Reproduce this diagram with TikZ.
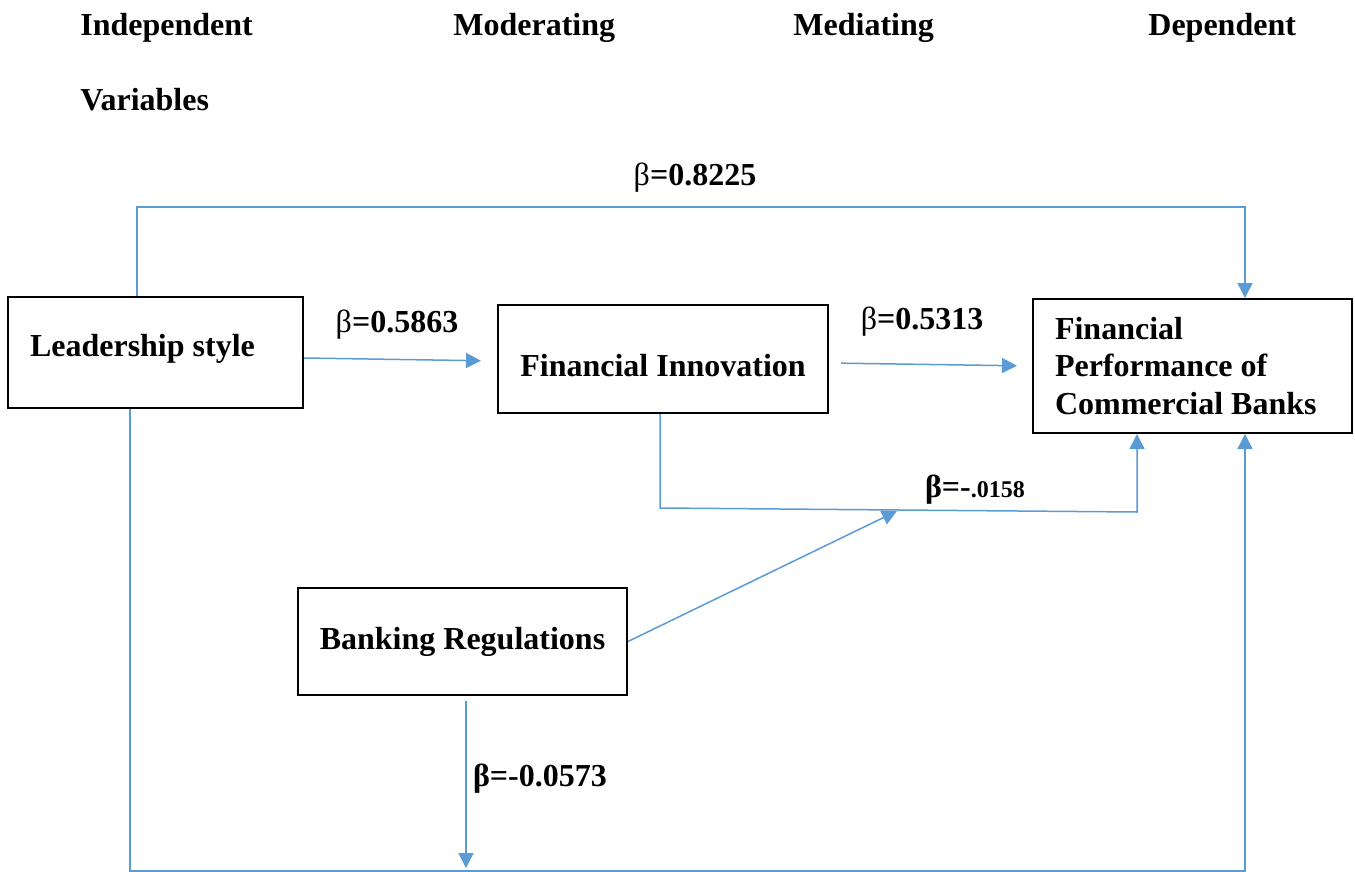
\documentclass[tikz,border=0pt]{standalone}
\usepackage{fontspec}
\setmainfont{Liberation Serif}
\usetikzlibrary{arrows.meta,calc}
\definecolor{lblue}{HTML}{5B9BD5}
\tikzset{
  box/.style={draw=black, line width=1pt, rectangle, inner sep=0pt,
    font=\fontsize{16}{18.75}\selectfont\bfseries},
  conn/.style={draw=lblue, line width=0.75pt},
  arr/.style={conn, -{Triangle[length=7.5pt,width=7.5pt]}},
  lbl/.style={font=\fontsize{16}{19}\selectfont, inner sep=0pt},
  hdr/.style={font=\fontsize{16}{19}\selectfont\bfseries, anchor=west, inner sep=0pt},
}
\begin{document}
\begin{tikzpicture}[x=0.5pt,y=-0.5pt]
\useasboundingbox (0,0) rectangle (1355,872);

% headers
\node[hdr] (h1) at (80,28) {Independent};
\node[hdr] (h2) at (453,28) {Moderating};
\node[hdr] (h3) at (793,28) {Mediating};
\node[hdr] (h4) at (1148,28) {Dependent};
\node[hdr] (h5) at (80,100) {Variables};

% boxes
\node[box, minimum width=147.5pt, minimum height=55.5pt, text width=125.5pt, inner xsep=11pt,
  align=flush left, text height=11pt, text depth=7.5pt]
  (L) at (155.5,352.5) {Leadership style};
\node[box, minimum width=165pt, minimum height=54pt, align=center, text height=17pt, text depth=0pt]
  (FI) at (663,359) {Financial Innovation};
\node[box, minimum width=159.5pt, minimum height=67pt, text width=137.5pt, inner xsep=11pt, align=flush left]
  (FP) at (1192.5,366) {Financial\\Performance of\\Commercial Banks};
\node[box, minimum width=164.5pt, minimum height=53.5pt, align=center]
  (BR) at (462.5,641.5) {Banking Regulations};

% routing coordinates
\coordinate (t1) at (137,207);
\coordinate (t2) at (1245,207);
\coordinate (m1) at (660,508);
\coordinate (m2) at (1137,512);
\coordinate (mx) at (897,511);
\coordinate (b1) at (130,871);
\coordinate (b2) at (1245,871);
\coordinate (bd) at (466,871);

% connectors
\draw[arr] (L.north -| t1) -- (t1) -- (t2) -- (FP.north -| t2);
\draw[arr, shorten >=8pt] (L.east |- 0,358) -- (FI.west |- 0,361);
\draw[arr, shorten <=6pt, shorten >=7.5pt] (FI.east |- 0,363) -- (FP.west |- 0,366);
\draw[arr] (FI.south -| m1) -- (m1) -- (m2) -- (FP.south -| m2);
\draw[arr] (BR.east) -- (mx);
\draw[arr, shorten <=2.5pt, shorten >=1.5pt] (BR.south -| bd) -- (bd);
\draw[arr] (L.south -| b1) -- (b1) -- (b2) -- (FP.south -| b2);

% labels
\node[lbl] (l1) at (695,178) {β\textbf{=0.8225}};
\node[lbl] (l2) at (397,325) {β\textbf{=0.5863}};
\node[lbl] (l3) at (922,322) {β\textbf{=0.5313}};
\node[lbl] (l4) at (975,490) {\textbf{β=-}{\fontsize{12}{14}\selectfont\bfseries .0158}};
\node[lbl] (l5) at (540,779) {\textbf{β=-0.0573}};
\end{tikzpicture}
\end{document}
